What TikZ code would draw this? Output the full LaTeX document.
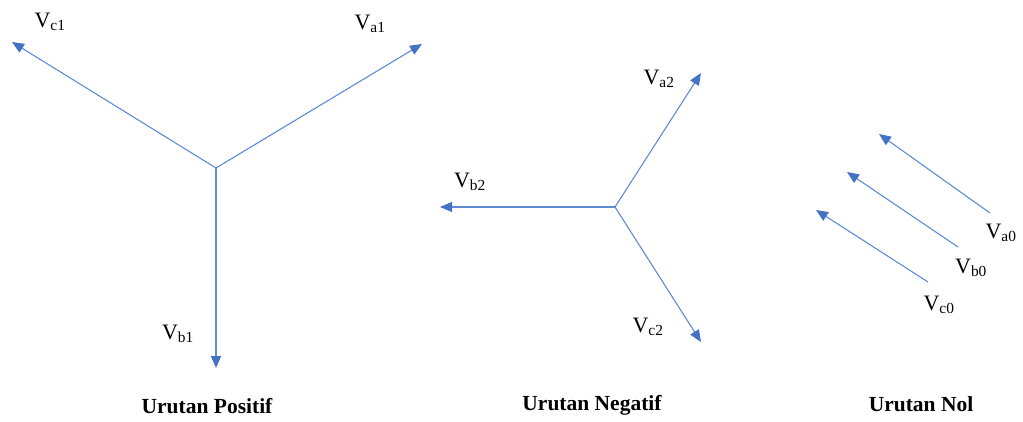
\documentclass[tikz,border=0pt]{standalone}
\usepackage{fontspec}
\setmainfont{Liberation Serif}
\usetikzlibrary{arrows.meta}
\definecolor{vecblue}{RGB}{68,114,196}
\definecolor{lineblue}{RGB}{95,140,210}
\begin{document}
\begin{tikzpicture}[x=1pt,y=-1pt,
  vec/.style={draw=lineblue,line width=1.1pt,-{Triangle[length=12pt,width=10pt,fill=vecblue,color=vecblue]}},
  lbl/.style={inner sep=0pt,font=\fontsize{22}{24}\selectfont},
  ttl/.style={inner sep=0pt,font=\fontsize{21.5}{24}\selectfont\bfseries}]
\useasboundingbox (0,0) rectangle (1023,421);
% Positive sequence
\coordinate (o1) at (216,168);
\coordinate (a1) at (422,44);
\coordinate (c1) at (12,42);
\coordinate (b1) at (216,368);
\draw[vec] (o1) -- (a1);
\draw[vec] (o1) -- (c1);
\draw[vec] (o1) -- (b1);
\node[lbl] (la1) at (370,24) {V\textsubscript{a1}};
\node[lbl] (lc1) at (50,22) {V\textsubscript{c1}};
\node[lbl] (lb1) at (178,334) {V\textsubscript{b1}};
% Negative sequence
\coordinate (o2) at (615,207);
\coordinate (a2) at (701,73);
\coordinate (b2) at (440,207);
\coordinate (c2) at (701,342);
\draw[vec] (o2) -- (a2);
\draw[vec] (o2) -- (b2);
\draw[vec] (o2) -- (c2);
\node[lbl] (la2) at (659,79) {V\textsubscript{a2}};
\node[lbl] (lb2) at (470,182) {V\textsubscript{b2}};
\node[lbl] (lc2) at (648,327) {V\textsubscript{c2}};
% Zero sequence
\coordinate (sa0) at (990,213);
\coordinate (ea0) at (879,134);
\coordinate (sb0) at (958,247);
\coordinate (eb0) at (847,172);
\coordinate (sc0) at (928,282);
\coordinate (ec0) at (816,210);
\draw[vec] (sa0) -- (ea0);
\draw[vec] (sb0) -- (eb0);
\draw[vec] (sc0) -- (ec0);
\node[lbl] (la0) at (1001,233) {V\textsubscript{a0}};
\node[lbl] (lb0) at (971,268) {V\textsubscript{b0}};
\node[lbl] (lc0) at (939,305) {V\textsubscript{c0}};
% Titles
\node[ttl] (t1) at (207,406) {Urutan Positif};
\node[ttl] (t2) at (592,405) {Urutan Negatif};
\node[ttl] (t3) at (921,404) {Urutan Nol};
\end{tikzpicture}
\end{document}
